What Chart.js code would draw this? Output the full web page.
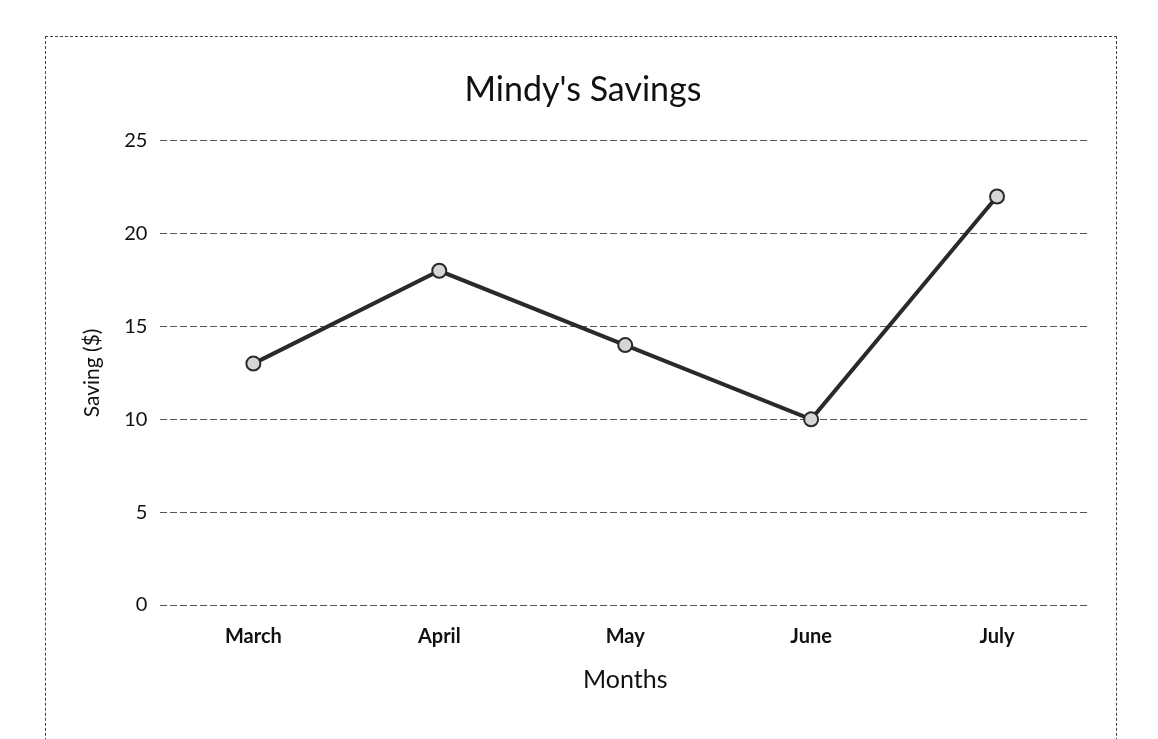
<!DOCTYPE html>
<html>
<head>
<meta charset="utf-8">
<script src="https://cdn.jsdelivr.net/npm/chart.js@4/dist/chart.umd.min.js"></script>
<style>
  html, body { margin: 0; padding: 0; background: #fff; }
  #wrap { position: relative; width: 1158px; height: 739px; overflow: hidden; }
  #frame { position: absolute; left: 45px; top: 36px; width: 1072px; height: 760px;
           border: 1px dashed #444; box-sizing: border-box; }
  canvas { position: absolute; left: 0; top: 0; }
</style>
</head>
<body>
<div id="wrap">
  <div id="frame"></div>
  <canvas id="c" width="1158" height="739"></canvas>
</div>
<script>
const categories = ["March", "April", "May", "June", "July"];
const savings = [13, 18, 14, 10, 22];
const yTicks = [0, 5, 10, 15, 20, 25];
const chartTitle = "Mindy's Savings";
const xTitle = "Months";
const yTitle = "Saving ($)";

const FONT = "Lato, 'Open Sans', sans-serif";

new Chart(document.getElementById('c'), {
  type: 'line',
  data: {
    labels: categories,
    datasets: [{
      label: 'Savings',
      data: savings,
      borderColor: '#2a2a2a',
      borderWidth: 4,
      pointRadius: 7,
      pointBorderWidth: 2,
      pointBackgroundColor: '#d6d6d6',
      pointBorderColor: '#2a2a2a',
      tension: 0
    }]
  },
  options: {
    responsive: false,
    animation: false,
    devicePixelRatio: 1,
    layout: { padding: { left: 76, right: 68, top: 70, bottom: 40 } },
    plugins: {
      legend: { display: false },
      tooltip: { enabled: false },
      title: {
        display: true,
        text: chartTitle,
        color: '#111',
        font: { family: FONT, size: 34, weight: 'normal' },
        padding: { top: 0, bottom: 30 }
      }
    },
    scales: {
      x: {
        offset: true,
        grid: { display: false },
        border: { display: false },
        ticks: { color: '#111', font: { family: FONT, size: 20, weight: 'bold' }, padding: 12 },
        title: { display: true, text: xTitle, color: '#111', font: { family: FONT, size: 25 }, padding: { top: 4 } }
      },
      y: {
        min: 0, max: 25,
        afterBuildTicks: (s) => { s.ticks = yTicks.map(v => ({ value: v })); },
        grid: { color: '#555', lineWidth: 1, drawTicks: false },
        border: { display: false, dash: [7, 3] },
        ticks: { color: '#111', font: { family: FONT, size: 20 }, padding: 13 },
        title: { display: true, text: yTitle, color: '#111', font: { family: FONT, size: 21 }, padding: { bottom: 6 } }
      }
    }
  }
});
</script>
</body>
</html>
